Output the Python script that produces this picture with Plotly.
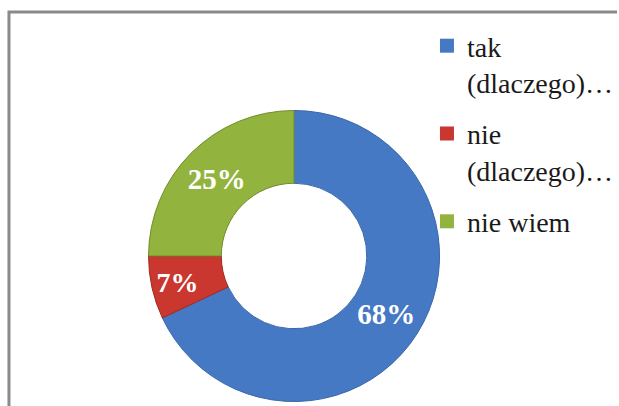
import plotly.graph_objects as go

labels = ["tak<br>(dlaczego)…", "nie<br>(dlaczego)…", "nie wiem"]
values = [68, 7, 25]
colors = ["#4679C4", "#C9372F", "#92B43E"]
edge_colors = ["#3A66A8", "#A02A24", "#6F8C2A"]

W, H = 619, 406
cx, cy, r = 295, 256, 146
SERIF = "Times New Roman, Liberation Serif, serif"

fig = go.Figure()
fig.add_trace(go.Pie(
    labels=labels,
    values=values,
    hole=0.5,
    sort=False,
    direction="clockwise",
    rotation=0,
    marker=dict(colors=colors, line=dict(color=edge_colors, width=1)),
    textinfo="percent",
    texttemplate="%{percent:.0%}",
    textposition="inside",
    insidetextorientation="horizontal",
    textfont=dict(family=SERIF, size=29, color="white", weight="bold"),
    domain=dict(x=[(cx - r) / W, (cx + r) / W], y=[(H - cy - r) / H, (H - cy + r) / H]),
    showlegend=False,
))

# legend entries (one per slice, so the spacing between entries can be set)
for lab, col in zip(labels, colors):
    fig.add_trace(go.Scatter(
        x=[None], y=[None], mode="markers", name=lab, legendgroup=lab,
        marker=dict(symbol="square", size=14, color=col, line=dict(width=0)),
        hoverinfo="skip",
    ))

fig.update_layout(
    width=W, height=H,
    margin=dict(l=0, r=0, t=0, b=0),
    paper_bgcolor="white",
    plot_bgcolor="rgba(0,0,0,0)",
    font=dict(family=SERIF),
    xaxis=dict(visible=False),
    yaxis=dict(visible=False),
    showlegend=True,
    legend=dict(
        x=0.692, y=(H - 21) / H, xanchor="left", yanchor="top",
        font=dict(family=SERIF, size=28, color="#1a1a1a"),
        valign="top",
        tracegroupgap=12,
        bgcolor="rgba(0,0,0,0)",
    ),
    shapes=[dict(
        type="path", xref="paper", yref="paper",
        path=f"M {9/W},0 L {9/W},{(H-12)/H} L 1,{(H-12)/H}",
        line=dict(color="#8A8A8A", width=3),
    )],
)

fig.write_html(
    "out.html",
    config={"displayModeBar": False},
    post_script="document.body.style.margin='0';document.body.style.overflow='hidden';",
)
